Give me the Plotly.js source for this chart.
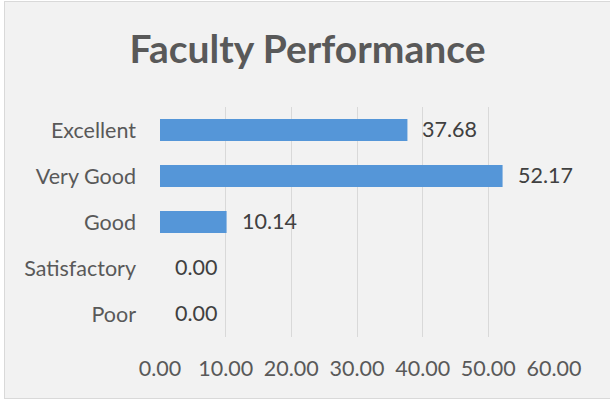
<!DOCTYPE html>
<html>
<head>
<meta charset="utf-8">
<script src="https://cdn.plot.ly/plotly-3.0.1.min.js"></script>
<style>
  html, body { margin: 0; padding: 0; background: #ffffff; width: 610px; height: 400px; overflow: hidden; }
  #frame { position: absolute; left: 4px; top: 1px; width: 605px; height: 396px;
           border: 1px solid #d9d9d9; border-right: none; background: #f2f2f2; }
  #chart { width: 605px; height: 396px; }
</style>
</head>
<body>
<div id="frame"><div id="chart"></div></div>
<script>
// Data (listed bottom-to-top as drawn)
const categories = ["Poor", "Satisfactory", "Good", "Very Good", "Excellent"];
const values = [0.00, 0.00, 10.14, 52.17, 37.68];
const tickValues = [0, 10, 20, 30, 40, 50, 60];
const tickLabels = ["0.00", "10.00", "20.00", "30.00", "40.00", "50.00", "60.00"];
const chartTitle = "Faculty Performance";

const FONT = "Lato, 'Open Sans', sans-serif";

const trace = {
  type: "bar",
  orientation: "h",
  y: categories,
  x: values,
  marker: { color: "#5596d8", line: { width: 0 } },
  hoverinfo: "none"
};

const annotations = categories.map((c, i) => ({
  x: values[i], y: c, xref: "x", yref: "y",
  text: values[i].toFixed(2),
  showarrow: false, xanchor: "left", yanchor: "middle",
  xshift: 13, yshift: 1,
  font: { family: FONT, size: 21.5, color: "#404040" }
}));

const layout = {
  width: 605, height: 396,
  paper_bgcolor: "#f2f2f2",
  plot_bgcolor: "#f2f2f2",
  margin: { l: 155, r: 56, t: 105, b: 61, pad: 0 },
  showlegend: false,
  bargap: 0.52,
  title: {
    text: "<b>" + chartTitle + "</b>",
    font: { family: FONT, size: 39, color: "#595959" },
    x: 0.5, xanchor: "center", xref: "container",
    y: 0.881, yanchor: "middle", yref: "container"
  },
  xaxis: {
    range: [0, 60],
    tickvals: tickValues,
    ticktext: tickLabels,
    showgrid: true, gridcolor: "#d9d9d9", gridwidth: 1,
    zeroline: false, showline: false,
    ticks: "", ticklabelstandoff: 16,
    tickfont: { family: FONT, size: 21.5, color: "#595959" },
    fixedrange: true
  },
  yaxis: {
    showgrid: false, zeroline: false, showline: false,
    ticks: "", ticklabelstandoff: 23,
    tickfont: { family: FONT, size: 21.5, color: "#595959" },
    fixedrange: true
  },
  annotations: annotations
};

Plotly.newPlot("chart", [trace], layout, { displayModeBar: false, staticPlot: true });
</script>
</body>
</html>
